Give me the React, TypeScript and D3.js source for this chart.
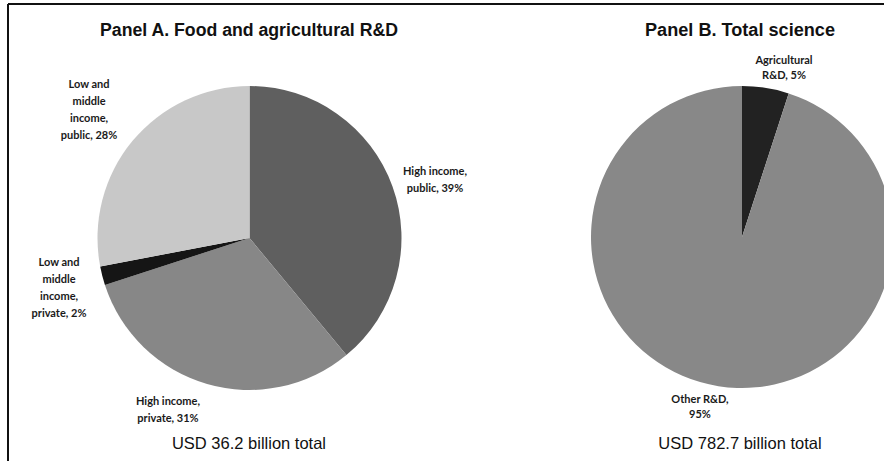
import React from "react";
import * as d3 from "d3";

const panelACategories = [
  "High income, public",
  "High income, private",
  "Low and middle income, private",
  "Low and middle income, public",
];
const panelAValues = [39, 31, 2, 28];
const panelAColors = ["#5f5f5f", "#878787", "#151515", "#c8c8c8"];
const panelALabels = [
  ["High income,", "public, 39%"],
  ["High income,", "private, 31%"],
  ["Low and", "middle", "income,", "private, 2%"],
  ["Low and", "middle", "income,", "public, 28%"],
];

const panelBCategories = ["Agricultural R&D", "Other R&D"];
const panelBValues = [5, 95];
const panelBColors = ["#222222", "#888888"];
const panelBLabels = [
  ["Agricultural", "R&D, 5%"],
  ["Other R&D,", "95%"],
];

const titles = ["Panel A. Food and agricultural R&D", "Panel B. Total science"];
const totals = ["USD 36.2 billion total", "USD 782.7 billion total"];

const W = 884;
const H = 461;

// label anchor positions (center of first line) in pixels
const labelPosA = [
  [435, 170],
  [168, 400],
  [59, 261],
  [89, 83],
];
const labelPosB = [
  [784, 59],
  [700, 398],
];

const labelFont = "Lato, 'Open Sans', sans-serif";
const titleFont = "'Liberation Sans Narrow', 'Arial Narrow', 'Liberation Sans', Arial, sans-serif";
const totalFont = "'Liberation Sans', Arial, sans-serif";

function Pie({ cx, cy, r, values, colors }: { cx: number; cy: number; r: number; values: number[]; colors: string[] }) {
  const pie = d3.pie<number>().sort(null).value((d) => d)(values);
  const arc = d3.arc<d3.PieArcDatum<number>>().innerRadius(0).outerRadius(r);
  return (
    <g transform={`translate(${cx},${cy})`}>
      {pie.map((p, i) => (
        <path key={i} d={arc(p) || ""} fill={colors[i]} />
      ))}
    </g>
  );
}

function Label({ x, y, lines, lh }: { x: number; y: number; lines: string[]; lh: number }) {
  return (
    <text x={x} y={y} textAnchor="middle" dominantBaseline="central" fontFamily={labelFont} fontSize={11} fontWeight={700} fill="#1a1a1a">
      {lines.map((l, i) => (
        <tspan key={i} x={x} dy={i === 0 ? 0 : lh}>
          {l}
        </tspan>
      ))}
    </text>
  );
}

export default function App() {
  return (
    <svg width={W} height={H} style={{ position: "absolute", left: 0, top: 0, display: "block", background: "#fff" }}>
      <rect x={0} y={0} width={W} height={H} fill="#fff" />
      <line x1={8} y1={4} x2={W} y2={4} stroke="#111" strokeWidth={2} />
      <line x1={8} y1={4} x2={8} y2={H} stroke="#111" strokeWidth={2} />

      <Pie cx={249.5} cy={238} r={152} values={panelAValues} colors={panelAColors} />
      <Pie cx={742} cy={237} r={151} values={panelBValues} colors={panelBColors} />

      <text x={249} y={36} textAnchor="middle" fontFamily={titleFont} fontSize={17.5} fontWeight={700} fill="#111" textLength={298} lengthAdjust="spacingAndGlyphs">
        {titles[0]}
      </text>
      <text x={740} y={36} textAnchor="middle" fontFamily={titleFont} fontSize={17.5} fontWeight={700} fill="#111" textLength={190} lengthAdjust="spacingAndGlyphs">
        {titles[1]}
      </text>

      {panelALabels.map((lines, i) => (
        <Label key={panelACategories[i]} x={labelPosA[i][0]} y={labelPosA[i][1]} lines={lines} lh={17} />
      ))}
      {panelBLabels.map((lines, i) => (
        <Label key={panelBCategories[i]} x={labelPosB[i][0]} y={labelPosB[i][1]} lines={lines} lh={14.5} />
      ))}

      <text x={249} y={449} textAnchor="middle" fontFamily={totalFont} fontSize={16.5} fill="#111">
        {totals[0]}
      </text>
      <text x={740} y={449} textAnchor="middle" fontFamily={totalFont} fontSize={16.5} fill="#111">
        {totals[1]}
      </text>
    </svg>
  );
}
